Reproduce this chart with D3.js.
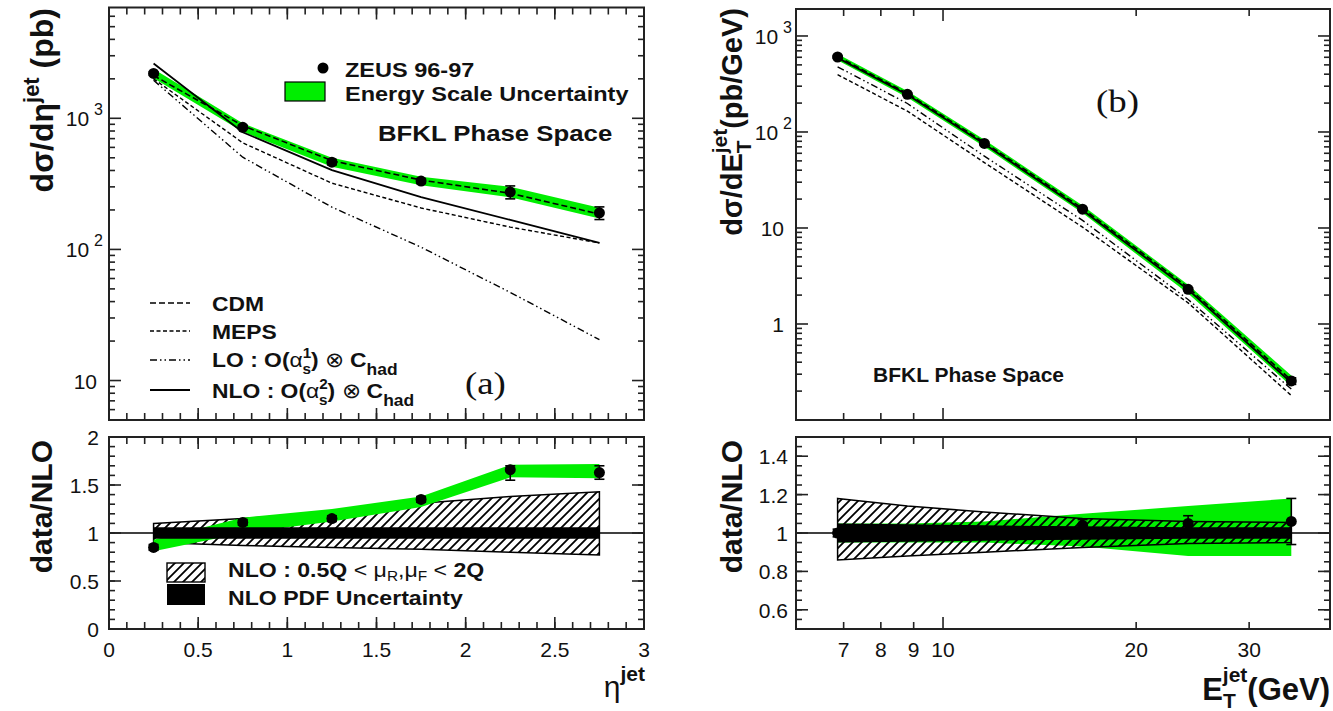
<!DOCTYPE html>
<html>
<head>
<meta charset="utf-8">
<script src="https://cdn.jsdelivr.net/npm/d3@7"></script>
<style>
  body { margin: 0; background: #fff; }
  svg text { font-family: "Liberation Sans", Arial, sans-serif; fill: #111; }
</style>
</head>
<body>
<svg id="chart" width="1333" height="711"></svg>
<script>
// ---- panel (a): eta^jet ----
const etaBins = [0.25, 0.75, 1.25, 1.75, 2.25, 2.75];
const etaData = [2200, 854, 463, 332, 274, 190];
const etaErr = [60, 30, 22, 14, 31, 21];
const etaEsLo = [2020, 790, 428, 308, 250, 172];
const etaEsHi = [2380, 915, 500, 358, 300, 208];
const etaCDM = [2120, 880, 475, 338, 268, 186];
const etaMEPS = [2000, 650, 320, 207, 148, 112];
const etaLO = [1950, 505, 210, 104, 47, 20.5];
const etaNLO = [2620, 783, 403, 251, 168, 112];

const etaRatio = [0.85, 1.11, 1.15, 1.35, 1.66, 1.63];
const etaRatioErrLo = [0.03, 0.03, 0.03, 0.03, 0.11, 0.07];
const etaRatioErrHi = [0.03, 0.03, 0.03, 0.03, 0.04, 0.07];
const etaRatioEsLo = [0.81, 1.0, 1.12, 1.27, 1.58, 1.57];
const etaRatioEsHi = [0.93, 1.16, 1.25, 1.38, 1.71, 1.72];
const etaScaleLo = [0.90, 0.87, 0.85, 0.83, 0.80, 0.77];
const etaScaleHi = [1.10, 1.15, 1.22, 1.31, 1.38, 1.43];
const etaPdfLo = [0.94, 0.94, 0.94, 0.94, 0.94, 0.94];
const etaPdfHi = [1.06, 1.06, 1.06, 1.06, 1.06, 1.06];

// ---- panel (b): E_T^jet ----
const etBins = [6.85, 8.8, 11.6, 16.5, 24.1, 34.9];
const etData = [604, 247, 76, 15.7, 2.3, 0.255];
const etErr = [15, 6, 2, 0.4, 0.08, 0.02];
const etEsLo = [560, 228, 70, 14.3, 2.08, 0.225];
const etEsHi = [650, 268, 83, 17.2, 2.56, 0.29];
const etCDM = [612, 252, 78, 16.0, 2.4, 0.26];
const etMEPS = [395, 165, 48, 10.2, 1.66, 0.18];
const etLO = [478, 198, 56, 12.0, 1.8, 0.21];
const etNLO = [592, 244, 75, 15.3, 2.28, 0.245];

const etRatio = [1.0, 1.0, 1.0, 1.04, 1.05, 1.06];
const etRatioErr = [0.02, 0.02, 0.02, 0.03, 0.04, 0.12];
const etRatioEsLo = [0.95, 0.95, 0.95, 0.93, 0.88, 0.88];
const etRatioEsHi = [1.05, 1.05, 1.06, 1.10, 1.14, 1.18];
const etScaleLo = [0.86, 0.88, 0.90, 0.925, 0.945, 0.95];
const etScaleHi = [1.18, 1.14, 1.11, 1.075, 1.06, 1.055];
const etPdfLo = [0.95, 0.955, 0.96, 0.965, 0.97, 0.97];
const etPdfHi = [1.05, 1.045, 1.04, 1.035, 1.03, 1.03];

// tick labels
const etaTicks = [0, 0.5, 1, 1.5, 2, 2.5, 3];
const ratioATicks = [0, 0.5, 1, 1.5, 2];
const ratioBTicks = [0.6, 0.8, 1, 1.2, 1.4];
const etTicks = [7, 8, 9, 10, 20, 30];

const green = '#00ee00';
const svg = d3.select('#chart');

const defs = svg.append('defs');
const pat = defs.append('pattern').attr('id', 'hatch')
  .attr('patternUnits', 'userSpaceOnUse').attr('width', 9).attr('height', 9);
pat.append('path').attr('d', 'M0,9 L9,0 M-2,2 L2,-2 M7,11 L11,7')
  .attr('stroke', '#000').attr('stroke-width', 1.8);

// scales
const xA = d3.scaleLinear([0, 3], [109, 644]);
const yA = d3.scaleLog([5, 7000], [420, 7.5]);
const yRA = d3.scaleLinear([0, 2], [629, 437]);
const xB = d3.scaleLog([5.9, 40.1], [796, 1330]);
const yB = d3.scaleLog([0.1, 1910], [420, 9]);
const yRB = d3.scaleLinear([0.5, 1.5], [629, 437]);

function frame(x, y) {
  svg.append('rect')
    .attr('x', x.range()[0]).attr('y', y.range()[1])
    .attr('width', x.range()[1] - x.range()[0])
    .attr('height', y.range()[0] - y.range()[1])
    .attr('fill', 'none').attr('stroke', '#222').attr('stroke-width', 2);
}

function ticks(x, y, xMajor, xMinor, yMajor, yMinor) {
  const g = svg.append('g').attr('stroke', '#222').attr('stroke-width', 1.6);
  const [x0, x1] = x.range(), [y0, y1] = y.range();
  const put = (vals, len, vert) => vals.forEach(v => {
    if (vert) {
      const px = x(v);
      g.append('line').attr('x1', px).attr('x2', px).attr('y1', y0).attr('y2', y0 - len);
      g.append('line').attr('x1', px).attr('x2', px).attr('y1', y1).attr('y2', y1 + len);
    } else {
      const py = y(v);
      g.append('line').attr('y1', py).attr('y2', py).attr('x1', x0).attr('x2', x0 + len);
      g.append('line').attr('y1', py).attr('y2', py).attr('x1', x1).attr('x2', x1 - len);
    }
  });
  put(xMajor, 12, true); put(xMinor, 7, true);
  put(yMajor, 12, false); put(yMinor, 6, false);
}

function logMinors(lo, hi) {
  const out = [];
  for (let e = Math.floor(Math.log10(lo)); e <= Math.ceil(Math.log10(hi)); e++) {
    for (let k = 2; k <= 9; k++) {
      const v = k * Math.pow(10, e);
      if (v > lo && v < hi) out.push(v);
    }
  }
  return out;
}
function logMajors(lo, hi) {
  const out = [];
  for (let e = Math.ceil(Math.log10(lo)); Math.pow(10, e) < hi; e++) out.push(Math.pow(10, e));
  return out;
}
const steps = (a, b, s) => d3.range(Math.round((b - a) / s) + 1).map(i => +(a + i * s).toFixed(3));

function band(x, bins, lo, hi, yScale) {
  const area = d3.area().x((d, i) => x(bins[i]))
    .y0((d, i) => yScale(lo[i])).y1((d, i) => yScale(hi[i]));
  return svg.append('path').datum(bins).attr('d', area);
}
function curve(x, bins, vals, yScale, dash, w) {
  const line = d3.line().x((d, i) => x(bins[i])).y((d) => yScale(d));
  svg.append('path').datum(vals).attr('d', line).attr('fill', 'none')
    .attr('stroke', '#000').attr('stroke-width', w).attr('stroke-dasharray', dash);
}
function points(x, bins, vals, lo, hi, yScale) {
  const g = svg.append('g');
  bins.forEach((b, i) => {
    const px = x(b), ya = yScale(vals[i] - lo[i]), yb = yScale(vals[i] + hi[i]);
    g.append('line').attr('x1', px).attr('x2', px).attr('y1', ya).attr('y2', yb)
      .attr('stroke', '#000').attr('stroke-width', 1.6);
    [ya, yb].forEach(yy => g.append('line').attr('x1', px - 5).attr('x2', px + 5)
      .attr('y1', yy).attr('y2', yy).attr('stroke', '#000').attr('stroke-width', 1.6));
    g.append('circle').attr('cx', px).attr('cy', yScale(vals[i])).attr('r', 5.5).attr('fill', '#000');
  });
}

// text stretched sideways like the reference lettering
function sText(g, x, y, size, sx) {
  return g.append('text').attr('transform', `translate(${x},${y}) scale(${sx},1)`)
    .attr('font-size', size);
}

const dashCDM = '6,3', dashMEPS = '4,2.5', dashLO = '7,3,1.5,3,1.5,3';

// ===== panel (a) top =====
band(xA, etaBins, etaEsLo, etaEsHi, yA).attr('fill', green);
curve(xA, etaBins, etaLO, yA, dashLO, 1.4);
curve(xA, etaBins, etaMEPS, yA, dashMEPS, 1.4);
curve(xA, etaBins, etaCDM, yA, dashCDM, 1.6);
curve(xA, etaBins, etaNLO, yA, null, 1.8);
points(xA, etaBins, etaData, etaErr, etaErr, yA);
frame(xA, yA);
ticks(xA, yA, steps(0, 3, 0.5), steps(0, 3, 0.1), logMajors(5, 7000), logMinors(5, 7000));

// ===== panel (a) ratio =====
band(xA, etaBins, etaScaleLo, etaScaleHi, yRA).attr('fill', '#fff');
band(xA, etaBins, etaScaleLo, etaScaleHi, yRA).attr('fill', 'url(#hatch)')
  .attr('stroke', '#000').attr('stroke-width', 1.5);
band(xA, etaBins, etaRatioEsLo, etaRatioEsHi, yRA).attr('fill', green);
band(xA, etaBins, etaPdfLo, etaPdfHi, yRA).attr('fill', '#000');
svg.append('line').attr('x1', xA(0)).attr('x2', xA(3)).attr('y1', yRA(1)).attr('y2', yRA(1))
  .attr('stroke', '#000').attr('stroke-width', 1.4);
points(xA, etaBins, etaRatio, etaRatioErrLo, etaRatioErrHi, yRA);
frame(xA, yRA);
ticks(xA, yRA, steps(0, 3, 0.5), steps(0, 3, 0.1), steps(0, 2, 0.5), steps(0, 2, 0.1));

// ===== panel (b) top =====
band(xB, etBins, etEsLo, etEsHi, yB).attr('fill', green);
curve(xB, etBins, etMEPS, yB, dashMEPS, 1.4);
curve(xB, etBins, etLO, yB, dashLO, 1.4);
curve(xB, etBins, etCDM, yB, dashCDM, 1.6);
curve(xB, etBins, etNLO, yB, null, 1.8);
points(xB, etBins, etData, etErr, etErr, yB);
frame(xB, yB);
ticks(xB, yB, [10], [7, 8, 9, 20, 30], logMajors(0.1, 1910), logMinors(0.1, 1910));

// ===== panel (b) ratio =====
band(xB, etBins, etRatioEsLo, etRatioEsHi, yRB).attr('fill', green);
band(xB, etBins, etScaleLo, etScaleHi, yRB).attr('fill', 'url(#hatch)')
  .attr('stroke', '#000').attr('stroke-width', 1.5);
band(xB, etBins, etPdfLo, etPdfHi, yRB).attr('fill', '#000');
svg.append('line').attr('x1', xB(5.9)).attr('x2', xB(40.1)).attr('y1', yRB(1)).attr('y2', yRB(1))
  .attr('stroke', '#000').attr('stroke-width', 1.4);
points(xB, etBins, etRatio, etRatioErr, etRatioErr, yRB);
frame(xB, yRB);
ticks(xB, yRB, [10], [7, 8, 9, 20, 30], ratioBTicks, steps(0.5, 1.5, 0.05));

// ===== tick labels =====
const lab = svg.append('g').attr('font-size', 21);
etaTicks.forEach(v => lab.append('text').attr('x', xA(v)).attr('y', 657)
  .attr('text-anchor', 'middle').text(v));
etTicks.forEach(v => lab.append('text').attr('x', xB(v)).attr('y', 657)
  .attr('text-anchor', 'middle').text(v));
ratioATicks.forEach(v => lab.append('text').attr('x', 99).attr('y', yRA(v) + 8)
  .attr('text-anchor', 'end').text(v));
ratioBTicks.forEach(v => lab.append('text').attr('x', 788).attr('y', yRB(v) + 8)
  .attr('text-anchor', 'end').text(v));
function decade(x, y, e) {
  const t = lab.append('text').attr('x', x).attr('y', y + 8).attr('text-anchor', 'end');
  if (e <= 1) { t.text(e === 1 ? '10' : '1'); return; }
  t.text('10');
  t.append('tspan').attr('dx', 5).attr('dy', -11).attr('font-size', 16).text(e);
}
[3, 2].forEach(e => decade(103, yA(Math.pow(10, e)), e));
decade(97, yA(10), 1);
[3, 2].forEach(e => decade(792, yB(Math.pow(10, e)), e));
decade(784, yB(10), 1);
decade(784, yB(1), 0);

// ===== axis titles =====
function vTitle(x, yEnd, size, build) {
  const t = svg.append('text').attr('transform', `translate(${x},${yEnd}) rotate(-90)`)
    .attr('text-anchor', 'end').attr('font-size', size).attr('font-weight', 'bold');
  build(t);
}
vTitle(53, 8, 32, t => {
  t.append('tspan').text('dσ/dη');
  t.append('tspan').attr('dy', -14).attr('font-size', 22).text('jet');
  t.append('tspan').attr('dy', 14).text(' (pb)');
});
vTitle(742, 8, 29, t => {
  t.append('tspan').text('dσ/dE');
  t.append('tspan').attr('dy', 9).attr('font-size', 21).text('T');
  t.append('tspan').attr('dx', -13).attr('dy', -24).attr('font-size', 21).text('jet');
  t.append('tspan').attr('dy', 15).text('(pb/GeV)');
});
vTitle(52, 440, 30, t => t.text('data/NLO'));
vTitle(742, 440, 30, t => t.text('data/NLO'));

const eta = svg.append('text').attr('x', 645).attr('y', 697).attr('text-anchor', 'end')
  .attr('font-size', 30);
eta.append('tspan').text('η');
eta.append('tspan').attr('dy', -16).attr('font-size', 21).attr('font-weight', 'bold').text('jet');

const et = svg.append('text').attr('x', 1330).attr('y', 700).attr('text-anchor', 'end')
  .attr('font-size', 31).attr('font-weight', 'bold');
et.append('tspan').text('E');
et.append('tspan').attr('dy', 8).attr('font-size', 21).text('T');
et.append('tspan').attr('dx', -13).attr('dy', -26).attr('font-size', 21).text('jet');
et.append('tspan').attr('dy', 18).text('(GeV)');

// ===== legends and labels =====
const leg = svg.append('g').attr('font-weight', 'bold');
leg.append('circle').attr('cx', 323).attr('cy', 68).attr('r', 5.5).attr('fill', '#000');
sText(leg, 345, 77, 21, 1.12).text('ZEUS 96-97');
leg.append('rect').attr('x', 285).attr('y', 82).attr('width', 40).attr('height', 19)
  .attr('fill', green).attr('stroke', '#000').attr('stroke-width', 1.2);
sText(leg, 345, 101, 21, 1.12).text('Energy Scale Uncertainty');
sText(leg, 378, 141, 23, 1.12).text('BFKL Phase Space');
sText(leg, 873, 382, 21, 1.0).text('BFKL Phase Space');

const modelDash = [dashCDM, dashMEPS, dashLO, null];
const modelY = [303, 331, 360, 390];
modelDash.forEach((dash, i) => {
  leg.append('line').attr('x1', 150).attr('x2', 190).attr('y1', modelY[i]).attr('y2', modelY[i])
    .attr('stroke', '#000').attr('stroke-width', dash ? 1.6 : 2.2).attr('stroke-dasharray', dash);
});
sText(leg, 212, 311, 21, 1.09).text('CDM');
sText(leg, 212, 339, 21, 1.09).text('MEPS');
function alphaText(y, name, power) {
  const t = sText(leg, 212, y, 21, 1.09);
  t.append('tspan').text(name + ' : O(');
  t.append('tspan').attr('font-weight', 'normal').text('α');
  t.append('tspan').attr('dy', -9).attr('font-size', 14).text(power);
  t.append('tspan').attr('dx', -8).attr('dy', 16).attr('font-size', 14).text('s');
  t.append('tspan').attr('dy', -7).text(')');
  t.append('tspan').attr('font-weight', 'normal').text(' ⊗ ');
  t.append('tspan').text('C');
  t.append('tspan').attr('dy', 8).attr('font-size', 16).text('had');
}
alphaText(367, 'LO', '1');
alphaText(398, 'NLO', '2');

sText(svg, 465, 394, 32, 1.15).style('font-family', '"Liberation Serif", serif').text('(a)');
sText(svg, 1096, 112, 32, 1.15).style('font-family', '"Liberation Serif", serif').text('(b)');

// ratio legend
leg.append('rect').attr('x', 167).attr('y', 563).attr('width', 38).attr('height', 19)
  .attr('fill', 'url(#hatch)').attr('stroke', '#000').attr('stroke-width', 1.4);
leg.append('rect').attr('x', 167).attr('y', 584).attr('width', 38).attr('height', 21)
  .attr('fill', '#000');
const sc = sText(leg, 228, 577, 21, 1.1);
sc.append('tspan').text('NLO : 0.5Q ');
sc.append('tspan').attr('font-weight', 'normal').text('< μ');
sc.append('tspan').attr('dy', 4).attr('font-size', 14).attr('font-weight', 'normal').text('R');
sc.append('tspan').attr('dy', -4).attr('font-weight', 'normal').text(',μ');
sc.append('tspan').attr('dy', 4).attr('font-size', 14).attr('font-weight', 'normal').text('F');
sc.append('tspan').attr('dy', -4).attr('font-weight', 'normal').text(' < ');
sc.append('tspan').text('2Q');
sText(leg, 228, 605, 21, 1.1).text('NLO PDF Uncertainty');
</script>
</body>
</html>
